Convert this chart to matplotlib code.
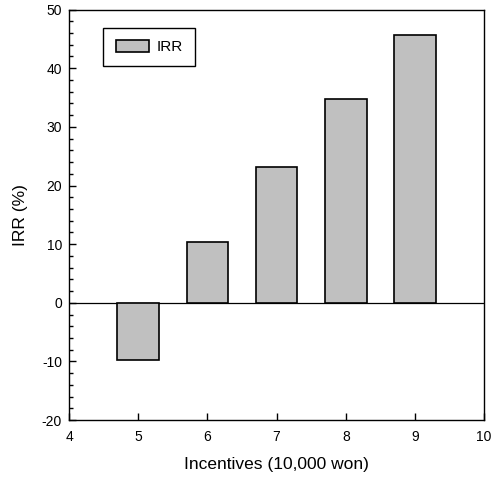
import matplotlib
matplotlib.use("Agg")
import matplotlib.pyplot as plt
from matplotlib.ticker import MultipleLocator

plt.rcParams['font.family'] = ['Liberation Sans', 'DejaVu Sans']
plt.rcParams['axes.unicode_minus'] = False

# Data
incentives = [5, 6, 7, 8, 9]
irr = [-9.8, 10.4, 23.2, 34.7, 45.6]

fig = plt.figure(figsize=(4.93, 4.79), dpi=100)
ax = fig.add_axes([0.140, 0.123, 0.842, 0.857])

ax.bar(incentives, irr, width=0.6, color='#c0c0c0', edgecolor='black',
       linewidth=1.2, label='IRR', zorder=3)
ax.axhline(0, color='black', linewidth=0.9, zorder=2)

ax.set_xlim(4, 10)
ax.set_ylim(-20, 50)
ax.xaxis.set_major_locator(MultipleLocator(1))
ax.yaxis.set_major_locator(MultipleLocator(10))
ax.yaxis.set_minor_locator(MultipleLocator(2))
ax.tick_params(axis='both', which='both', direction='in', top=False, right=False,
               labelsize=10, color='black')
ax.tick_params(axis='both', which='major', length=5, width=1)
ax.tick_params(axis='y', which='minor', length=3, width=1)
ax.tick_params(axis='x', pad=7.5)
ax.tick_params(axis='y', pad=5)
for s in ax.spines.values():
    s.set_linewidth(1)

ax.set_xlabel('Incentives (10,000 won)', fontsize=12.5, labelpad=9)
ax.set_ylabel('IRR (%)', fontsize=12.5, labelpad=10)

leg = ax.legend(loc='upper left', bbox_to_anchor=(0.083, 0.955), fancybox=False,
                edgecolor='black', fontsize=11, handlelength=2.2, handleheight=0.75,
                borderpad=0.8, borderaxespad=0, handletextpad=0.5, framealpha=1)
leg.get_frame().set_linewidth(1)

fig.savefig('out.png', dpi=100)
